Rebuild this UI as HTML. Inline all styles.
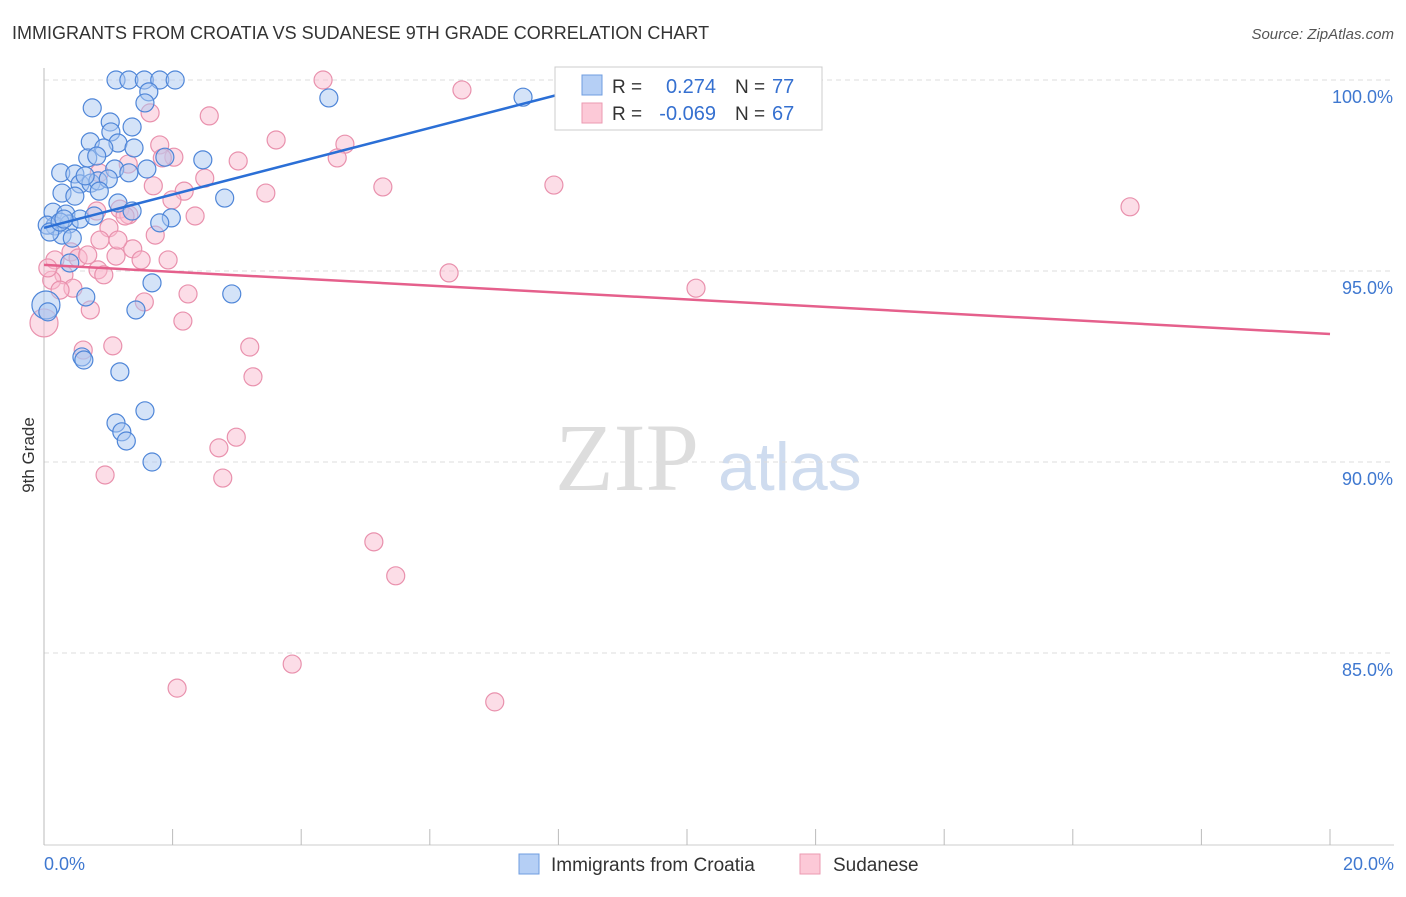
<!DOCTYPE html>
<html><head><meta charset="utf-8"><style>
body{margin:0;background:#fff;font-family:"Liberation Sans",sans-serif}
</style></head><body>
<svg width="1406" height="892" id="c" xmlns="http://www.w3.org/2000/svg" font-family="Liberation Sans, sans-serif">
<text x="12" y="39" font-size="18" fill="#333">IMMIGRANTS FROM CROATIA VS SUDANESE 9TH GRADE CORRELATION CHART</text>
<text x="1394" y="39" font-size="15" fill="#555" font-style="italic" text-anchor="end">Source: ZipAtlas.com</text>
<text x="34" y="455" font-size="17" fill="#333" transform="rotate(-90 34 455)" text-anchor="middle">9th Grade</text>
<text x="555" y="490" font-size="96" fill="#ddd" font-family="Liberation Serif, serif">ZIP</text>
<text x="718" y="490" font-size="68" fill="#cfdcef">atlas</text>
<g id="grid"></g><g id="pts"></g><g id="lines"></g>
<g>
<rect x="555" y="67" width="267" height="63" fill="#fff" stroke="#ccc"/>
<rect x="582" y="75" width="20" height="20" fill="#b5cff5" stroke="#6f9de0"/>
<rect x="582" y="103" width="20" height="20" fill="#fcc9d7" stroke="#eb9ab2"/>
<text x="612" y="93" font-size="19" fill="#333">R =</text><text x="716" y="93" font-size="20" fill="#3570d0" text-anchor="end">0.274</text>
<text x="735" y="93" font-size="19" fill="#333">N =</text><text x="772" y="93" font-size="20" fill="#3570d0">77</text>
<text x="612" y="120" font-size="19" fill="#333">R =</text><text x="716" y="120" font-size="20" fill="#3570d0" text-anchor="end">-0.069</text>
<text x="735" y="120" font-size="19" fill="#333">N =</text><text x="772" y="120" font-size="20" fill="#3570d0">67</text>
</g>
<g>
<rect x="519" y="854" width="20" height="20" fill="#b5cff5" stroke="#6f9de0"/>
<text x="551" y="871" font-size="19" fill="#333">Immigrants from Croatia</text>
<rect x="800" y="854" width="20" height="20" fill="#fcc9d7" stroke="#eb9ab2"/>
<text x="833" y="871" font-size="19" fill="#333">Sudanese</text>
</g>
</svg>
<script>
const xTicks=[0,2,4,6,8,10,12,14,16,18,20];
const yTicks=[100,95,90,85];
const yTickLabels=["100.0%","95.0%","90.0%","85.0%"];
const croatiaX=[1.12,1.32,1.56,1.80,2.04,1.63,1.57,0.75,4.43,7.45,10.33,1.03,1.04,1.37,0.72,1.15,0.93,1.40,0.68,0.82,2.47,0.26,1.10,1.32,1.60,1.88,0.48,0.56,0.73,0.84,1.00,0.28,0.48,0.86,1.15,1.37,2.81,0.14,0.34,0.17,0.39,0.56,0.78,0.28,0.44,1.98,1.80,0.05,0.09,0.40,0.65,1.68,2.92,1.43,0.03,0.06,0.59,0.62,1.18,1.12,1.57,1.21,1.28,1.68,0.25,0.31,0.64];
const croatiaY=[100,100,100,100,100,99.69,99.40,99.27,99.53,99.55,100,98.90,98.64,98.77,98.38,98.35,98.22,98.22,97.96,98.01,97.91,97.57,97.67,97.57,97.67,97.98,97.54,97.28,97.30,97.36,97.41,97.04,96.96,97.09,96.78,96.57,96.91,96.54,96.49,96.18,96.23,96.36,96.44,95.94,95.86,96.39,96.26,96.20,96.02,95.21,94.32,94.69,94.40,93.98,94.11,93.93,92.75,92.67,92.36,91.02,91.34,90.79,90.55,90.00,96.28,96.36,97.49];
const sudanX=[4.34,6.50,2.57,3.61,1.80,4.68,1.65,2.02,1.84,3.02,4.56,1.31,0.86,1.70,3.45,2.18,2.50,5.27,7.93,16.89,1.99,1.18,1.32,0.82,1.26,2.35,1.73,1.01,1.38,1.12,1.51,1.93,0.84,0.93,0.42,0.17,0.53,0.68,0.31,0.45,0.12,6.30,10.14,2.24,1.56,0.72,2.16,3.20,0.61,1.07,3.25,2.99,2.72,0.95,2.78,5.13,5.47,3.86,2.07,7.01,0.00,0.06,0.87,1.15,0.25];
const sudanY=[100,99.74,99.06,98.43,98.30,98.32,99.14,97.98,97.96,97.88,97.96,97.80,97.57,97.23,97.04,97.09,97.43,97.20,97.25,96.68,96.86,96.62,96.47,96.57,96.44,96.44,95.94,96.13,95.58,95.39,95.29,95.29,95.03,94.90,95.50,95.29,95.34,95.42,94.90,94.55,94.76,94.95,94.55,94.40,94.19,93.98,93.69,93.01,92.93,93.04,92.23,90.65,90.37,89.66,89.58,87.91,87.02,84.71,84.08,83.72,93.64,95.08,95.81,95.81,94.50];
const croatiaTrend=[96.13,100,8.88];
const sudanTrend=[95.16,93.35,20];
const X=v=>44+v*64.3, Y=v=>80+(100-v)*38.2;
const NS="http://www.w3.org/2000/svg";
function mk(p,t,a){const e=document.createElementNS(NS,t);for(const k in a)e.setAttribute(k,a[k]);p.appendChild(e);return e;}
const g=document.getElementById('grid');
yTicks.forEach((t,i)=>{
 const l=mk(g,'line',{x1:44,x2:1394,y1:Y(t),y2:Y(t),stroke:'#ddd','stroke-dasharray':'5,4'});
 
 
 const tx=mk(g,'text',{x:1393,y:Y(t)+23,'font-size':18,fill:'#3f78d0','text-anchor':'end'});tx.textContent=yTickLabels[i];
 
 
});
const ax=mk(g,'line',{x1:44,x2:44,y1:68,y2:845,stroke:'#bbb'});


const bx=mk(g,'line',{x1:44,x2:1394,y1:845,y2:845,stroke:'#ccc'});


xTicks.forEach(t=>{const l=mk(g,'line',{x1:X(t),x2:X(t),y1:829,y2:845,stroke:'#bbb'});
 
 });
[[0,"0.0%","start",44],[20,"20.0%","end",1394]].forEach(a=>{const t=mk(g,'text',{x:a[3],y:870,'font-size':18,fill:'#3f78d0','text-anchor':a[2]});t.textContent=a[1];
 
 });
const p=document.getElementById('pts');
function pts(xs,ys,fill,stroke,name){xs.forEach((x,i)=>{const big=x<0.05;const c=mk(p,'circle',{cx:X(x),cy:Y(ys[i]),r:big?14:9,fill:fill,'fill-opacity':0.5,stroke:stroke,'stroke-width':1.2});
 
 });}
pts(sudanX,sudanY,'#f9bcd0','#e991ad','sudanese-point');
pts(croatiaX,croatiaY,'#a9c8f2','#4f86d8','croatia-point');
const L=document.getElementById('lines');
const l1=mk(L,'line',{x1:X(0),y1:Y(croatiaTrend[0]),x2:X(croatiaTrend[2]),y2:Y(croatiaTrend[1]),stroke:'#2b6fd6','stroke-width':2.5});


const l2=mk(L,'line',{x1:X(0),y1:Y(sudanTrend[0]),x2:X(sudanTrend[2]),y2:Y(sudanTrend[1]),stroke:'#e5608c','stroke-width':2.5});


</script>
</body></html>
